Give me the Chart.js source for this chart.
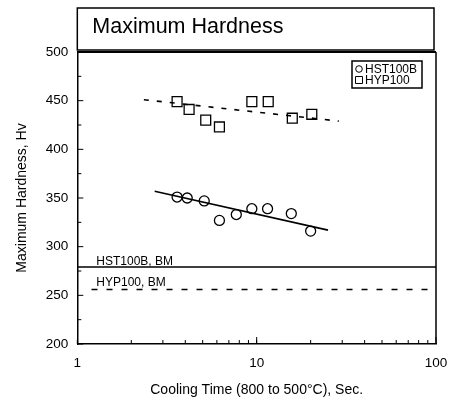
<!DOCTYPE html>
<html>
<head>
<meta charset="utf-8">
<script src="https://cdn.jsdelivr.net/npm/chart.js@4.4.1/dist/chart.umd.min.js"></script>
<style>
  html, body { margin: 0; padding: 0; background: #fff; }
</style>
</head>
<body>
<canvas id="hardnessChart" width="451" height="403"></canvas>
<script>
// cooling time (s) and maximum hardness (Hv)
const hstTime = [3.6, 4.1, 5.1, 6.2, 7.7, 9.4, 11.5, 15.6, 20];
const hstHv = [351, 350, 347, 327, 333, 339, 339, 334, 316];
const hypTime = [3.6, 4.2, 5.2, 6.2, 9.4, 11.6, 15.8, 20.3];
const hypHv = [449, 441, 430, 423, 449, 449, 432, 436];

// regression lines
const hstFitTime = [2.7, 25];
const hstFitHv = [357, 317];
const hypFitTime = [2.35, 28.7];
const hypFitHv = [451, 429];

// base metal levels
const hstBmTime = [1, 100];
const hstBmHv = [279, 279];
const hypBmTime = [1.2, 100];
const hypBmHv = [256, 256];

const xTicks = [1, 10, 100];
const yTicks = [200, 250, 300, 350, 400, 450, 500];

const FONT = "'Liberation Sans', Arial, Helvetica, sans-serif";

function pts(xs, ys) {
  return xs.map((x, i) => ({ x: x, y: ys[i] }));
}

const framePlugin = {
  id: "frame",
  afterDraw(chart) {
    const ctx = chart.ctx;
    const a = chart.chartArea;
    const xs = chart.scales.x;
    const ys = chart.scales.y;
    ctx.save();
    ctx.strokeStyle = "#000";
    ctx.fillStyle = "#000";

    // title box
    ctx.lineWidth = 1.5;
    ctx.strokeRect(a.left, 8, a.right - a.left - 2, a.top - 10);
    ctx.font = "21.5px " + FONT;
    ctx.textBaseline = "middle";
    ctx.textAlign = "left";
    ctx.fillText("Maximum Hardness", a.left + 15, 27);

    // top and right frame
    ctx.lineWidth = 2;
    ctx.beginPath();
    ctx.moveTo(a.left, a.top);
    ctx.lineTo(a.right, a.top);
    ctx.stroke();
    ctx.lineWidth = 1.5;
    ctx.beginPath();
    ctx.moveTo(a.right, a.top);
    ctx.lineTo(a.right, a.bottom);
    ctx.stroke();

    // inward ticks
    ctx.lineWidth = 1;
    ctx.beginPath();
    for (let v = 200; v <= 500; v += 25) {
      const y = ys.getPixelForValue(v);
      const len = v % 50 === 0 ? 6 : 4;
      ctx.moveTo(a.left, y);
      ctx.lineTo(a.left + len, y);
    }
    for (let d = 1; d < 100; d *= 10) {
      for (let m = 1; m <= 10; m++) {
        const x = xs.getPixelForValue(d * m);
        const len = m === 10 ? 7 : 4;
        ctx.moveTo(x, a.bottom);
        ctx.lineTo(x, a.bottom - len);
      }
    }
    ctx.stroke();

    // base metal labels
    ctx.font = "12px " + FONT;
    ctx.textBaseline = "alphabetic";
    const x0 = a.left + 19;
    ctx.fillText("HST100B, BM", x0, ys.getPixelForValue(hstBmHv[0]) - 2);
    ctx.fillText("HYP100, BM", x0, ys.getPixelForValue(hypBmHv[0]) - 3);

    // legend
    const lx = a.right - 84, ly = a.top + 9, lw = 70, lh = 27;
    ctx.lineWidth = 1.5;
    ctx.strokeRect(lx, ly, lw, lh);
    ctx.font = "12px " + FONT;
    ctx.textBaseline = "middle";
    ctx.lineWidth = 1;
    const rows = [chart.data.datasets[0], chart.data.datasets[1]];
    rows.forEach((ds, i) => {
      const cy = ly + 8 + i * 11;
      ctx.beginPath();
      if (ds.pointStyle === "circle") {
        ctx.arc(lx + 7, cy, 3.3, 0, Math.PI * 2);
      } else {
        ctx.rect(lx + 3.5, cy - 3.5, 7, 7);
      }
      ctx.stroke();
      ctx.fillText(ds.label, lx + 13, cy + 0.5);
    });
    ctx.restore();
  },
};

const ctx = document.getElementById("hardnessChart").getContext("2d");
const hardnessChart = new Chart(ctx, {
  type: "scatter",
  data: {
    datasets: [
      {
        label: "HST100B",
        data: pts(hstTime, hstHv),
        pointStyle: "circle",
        pointRadius: 5,
        pointBorderWidth: 1.3,
        borderColor: "#000",
        backgroundColor: "rgba(0,0,0,0)",
      },
      {
        label: "HYP100",
        data: pts(hypTime, hypHv),
        pointStyle: "rect",
        pointRadius: 7,
        pointBorderWidth: 1.3,
        borderColor: "#000",
        backgroundColor: "rgba(0,0,0,0)",
      },
      {
        label: "HST100B fit",
        data: pts(hstFitTime, hstFitHv),
        showLine: true,
        pointRadius: 0,
        borderColor: "#000",
        borderWidth: 1.6,
      },
      {
        label: "HYP100 fit",
        data: pts(hypFitTime, hypFitHv),
        showLine: true,
        pointRadius: 0,
        borderColor: "#000",
        borderWidth: 1.6,
        borderDash: [5, 8],
      },
      {
        label: "HST100B, BM",
        data: pts(hstBmTime, hstBmHv),
        showLine: true,
        pointRadius: 0,
        borderColor: "#000",
        borderWidth: 1.5,
      },
      {
        label: "HYP100, BM",
        data: pts(hypBmTime, hypBmHv),
        showLine: true,
        pointRadius: 0,
        borderColor: "#000",
        borderWidth: 1.5,
        borderDash: [6, 9],
      },
    ],
  },
  options: {
    responsive: false,
    animation: false,
    layout: {
      padding: { top: 52, right: 15, bottom: 4, left: 12 },
    },
    scales: {
      x: {
        type: "logarithmic",
        min: 1,
        max: 100,
        afterBuildTicks: function (scale) {
          scale.ticks = xTicks.map((v) => ({ value: v }));
        },
        afterFit: function (scale) {
          // keep the "100" label overhang from shrinking the plot
          scale.paddingRight = 0;
          scale.paddingLeft = 0;
        },
        grid: { display: false, drawTicks: false },
        border: { display: true, color: "#000", width: 1.5 },
        ticks: {
          color: "#000",
          padding: 11,
          font: { family: FONT, size: 13.5 },
          maxRotation: 0,
          callback: function (value) {
            return String(value);
          },
        },
        title: {
          display: true,
          text: "Cooling Time (800 to 500°C), Sec.",
          color: "#000",
          font: { family: FONT, size: 14 },
          padding: { top: 0, bottom: 0 },
        },
      },
      y: {
        min: 200,
        max: 500,
        afterBuildTicks: function (scale) {
          scale.ticks = yTicks.map((v) => ({ value: v }));
        },
        grid: { display: false, drawTicks: false },
        border: { display: true, color: "#000", width: 1.5 },
        ticks: {
          color: "#000",
          padding: 9,
          font: { family: FONT, size: 13.5 },
        },
        title: {
          display: true,
          text: "Maximum Hardness, Hv",
          color: "#000",
          font: { family: FONT, size: 14 },
          padding: { top: 2, bottom: 6 },
        },
      },
    },
    plugins: {
      legend: { display: false },
      tooltip: { enabled: false },
    },
  },
  plugins: [framePlugin],
});
</script>
</body>
</html>
